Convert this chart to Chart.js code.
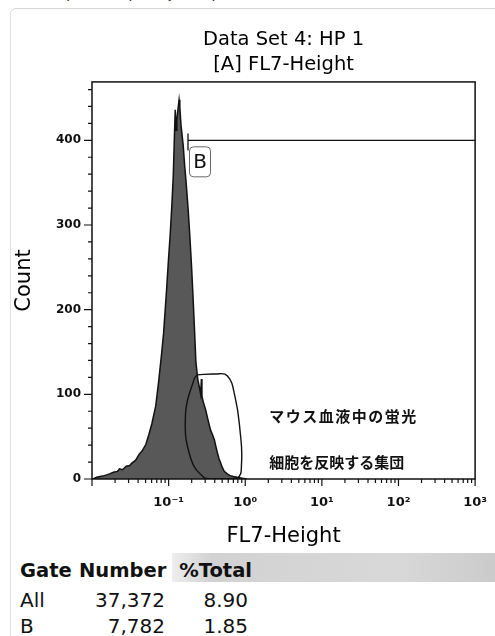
<!DOCTYPE html>
<html>
<head>
<meta charset="utf-8">
<script src="https://cdn.jsdelivr.net/npm/chart.js@4.4.1/dist/chart.umd.min.js"></script>
<style>
  html, body { margin: 0; padding: 0; background: #fff; }
  body { width: 495px; height: 636px; position: relative; overflow: hidden; font-family: "DejaVu Sans", sans-serif; color: #111; }
  #caption { position: absolute; left: 42px; top: -10px; font-size: 11px; line-height: 12px; font-weight: bold; color: #333; white-space: nowrap; }
  #frame { position: absolute; left: 10px; top: 8px; right: -2px; bottom: -2px; border-top: 1px solid #d4d4d4; border-left: 1px solid #e2e2e2; border-top-left-radius: 6px; }
  #wrap { position: absolute; left: 0; top: 0; width: 495px; height: 553px; }
  #band { position: absolute; left: 172px; top: 553px; width: 323px; height: 29px;
          background: linear-gradient(to right, #eeeeee, #d2d2d2 12%, #d8d8d8 70%, #cbcbcb); }
  .cell { position: absolute; font-size: 20px; line-height: 20px; white-space: nowrap; color: #111; }
  .head { font-weight: bold; font-size: 19.5px; }
</style>
</head>
<body>
<div id="caption">n=6, Error bar, SD. *p&lt;0.05, Student t-test</div>
<div id="frame"></div>
<div id="band"></div>
<div id="wrap"><canvas id="histChart" width="495" height="553"></canvas></div>

<script>
// FL7-Height histogram
const fl7Height = [
  0.0103, 0.0115, 0.0127, 0.0145, 0.017, 0.019, 0.0215, 0.0228, 0.025, 0.028,
  0.031, 0.0334, 0.037, 0.0411, 0.045, 0.0505, 0.055, 0.0603, 0.0678, 0.0741,
  0.081, 0.0859, 0.0938, 0.0994, 0.105, 0.110, 0.115, 0.119, 0.122, 0.125,
  0.128, 0.133, 0.137, 0.140, 0.145, 0.155, 0.162, 0.169, 0.18, 0.19,
  0.2, 0.208, 0.218, 0.227, 0.24, 0.255, 0.262, 0.268, 0.272, 0.285,
  0.304, 0.33, 0.352, 0.375, 0.396, 0.415, 0.433, 0.455, 0.473, 0.5,
  0.532, 0.582, 0.635, 0.7, 0.781, 0.906, 1.05
];
const counts = [
  0, 2, 3, 4, 6, 8, 9, 12, 11, 15,
  16, 19, 22, 29, 33, 41, 52, 65, 86, 115,
  148, 172, 222, 258, 290, 322, 358, 405, 436, 412,
  425, 438, 448, 440, 418, 394, 370, 351, 318, 284,
  248, 216, 175, 138, 118, 106, 100, 118, 98, 90,
  82, 68, 58, 52, 46, 38, 31, 24, 20, 14,
  9, 6, 4, 3, 2, 1, 0
];

// hand drawn gate outline
const gateX = [0.235, 0.40, 0.582, 0.736, 0.853, 0.895, 0.781, 0.374, 0.296, 0.195, 0.166, 0.215, 0.235];
const gateY = [123, 124, 122, 97, 58, 19, 1, 0.5, 1, 24, 76, 118, 123];

// range gate B
const gateB = { name: "B", start: 0.179, end: 1000, level: 400 };

const yTicks = [0, 100, 200, 300, 400];
const xTickLabels = { "-1": "10⁻¹", "0": "10⁰", "1": "10¹", "2": "10²", "3": "10³" };

const noteLines = ["マウス血液中の蛍光", "細胞を反映する集団"];

const tableHead = ["Gate", "Number", "%Total"];
const gateNames = ["All", "B"];
const gateNumbers = ["37,372", "7,782"];
const gatePercents = ["8.90", "1.85"];

//////////////////////////////
// Stats table
//////////////////////////////

function cell(text, left, right, top, cls) {
  const d = document.createElement("div");
  d.className = "cell " + (cls || "");
  d.textContent = text;
  d.style.top = top + "px";
  if (left !== null) d.style.left = left + "px";
  if (right !== null) d.style.right = (495 - right) + "px";
  document.body.appendChild(d);
}

cell(tableHead[0], 20, null, 561, "head");
cell(tableHead[1], 79, null, 561, "head");
cell(tableHead[2], null, 252, 561, "head");
const rowTops = [590, 616];
gateNames.forEach((name, i) => {
  cell(name, 20, null, rowTops[i]);
  cell(gateNumbers[i], null, 165, rowTops[i]);
  cell(gatePercents[i], null, 248, rowTops[i]);
});

//////////////////////////////
// Frame, tick marks, gate B, notes
//////////////////////////////

const axisFrame = {
  id: "axisFrame",
  afterDraw(chart) {
    const { ctx, chartArea: a, scales: { x, y } } = chart;
    ctx.save();
    ctx.strokeStyle = "#111";
    ctx.lineWidth = 1.5;
    ctx.strokeRect(a.left, a.top, a.right - a.left, a.bottom - a.top);

    ctx.lineWidth = 1.2;
    ctx.beginPath();
    for (let v = 0; v <= 460; v += 20) {
      const py = y.getPixelForValue(v);
      const len = v % 100 === 0 ? 8 : 4;
      ctx.moveTo(a.left - len, py);
      ctx.lineTo(a.left, py);
    }
    for (let d = -2; d <= 3; d++) {
      for (let m = 1; m <= 9; m++) {
        const v = m * Math.pow(10, d);
        if (v > 1000) break;
        const px = x.getPixelForValue(v);
        const len = m === 1 ? 7 : 4;
        ctx.moveTo(px, a.bottom);
        ctx.lineTo(px, a.bottom + len);
      }
    }
    ctx.stroke();

    // gate B marker
    const bx = x.getPixelForValue(gateB.start);
    const by = y.getPixelForValue(gateB.level);
    ctx.lineWidth = 1.3;
    ctx.beginPath();
    ctx.moveTo(bx, y.getPixelForValue(gateB.level + 8));
    ctx.lineTo(bx, y.getPixelForValue(gateB.level - 12));
    ctx.moveTo(bx, by);
    ctx.lineTo(x.getPixelForValue(gateB.end), by);
    ctx.stroke();

    ctx.strokeStyle = "#666";
    ctx.lineWidth = 1;
    ctx.beginPath();
    ctx.roundRect(bx + 1.5, by + 6.5, 21, 30, 4);
    ctx.stroke();
    ctx.fillStyle = "#111";
    ctx.font = '20px "DejaVu Sans"';
    ctx.textAlign = "center";
    ctx.textBaseline = "middle";
    ctx.fillText(gateB.name, bx + 12, by + 22);

    // notes
    ctx.font = 'bold 15px "Noto Sans CJK JP"';
    ctx.textAlign = "left";
    ctx.letterSpacing = "1.5px";
    ctx.fillText(noteLines[0], x.getPixelForValue(2.05), y.getPixelForValue(74));
    ctx.letterSpacing = "0px";
    ctx.fillText(noteLines[1], x.getPixelForValue(2.05), y.getPixelForValue(20));
    ctx.restore();
  }
};

const ctx = document.getElementById("histChart").getContext("2d");

new Chart(ctx, {
  type: "line",
  data: {
    datasets: [
      {
        label: "Gate",
        data: gateX.map((v, i) => ({ x: v, y: gateY[i] })),
        borderColor: "#111",
        borderWidth: 1.4,
        fill: false,
        tension: 0.45,
        pointRadius: 0,
        order: 0
      },
      {
        label: "FL7-Height",
        data: fl7Height.map((v, i) => ({ x: v, y: counts[i] })),
        borderColor: "#111",
        backgroundColor: "#585858",
        borderWidth: 1.5,
        fill: "origin",
        tension: 0,
        pointRadius: 0,
        order: 1
      }
    ]
  },
  options: {
    responsive: false,
    animation: false,
    devicePixelRatio: 1,
    layout: { padding: { left: 0, right: 12, top: 0, bottom: 0 } },
    plugins: {
      legend: { display: false },
      tooltip: { enabled: false },
      title: {
        display: true,
        fullSize: false,
        text: ["Data Set 4: HP 1", "[A] FL7-Height"],
        color: "#000",
        font: { family: "DejaVu Sans", size: 19.5, weight: "normal", lineHeight: 1.28 },
        padding: { top: 27, bottom: 5 }
      }
    },
    scales: {
      x: {
        type: "logarithmic",
        min: 0.01,
        max: 1000,
        afterFit: (scale) => { scale.height = 74; },
        grid: { display: false, tickLength: 8 },
        border: { display: false },
        ticks: {
          autoSkip: false,
          maxRotation: 0,
          padding: 8,
          color: "#111",
          font: { family: "DejaVu Sans", size: 13, weight: "bold" },
          callback: (value) => {
            const e = Math.log10(value);
            const r = Math.round(e);
            if (Math.abs(e - r) < 1e-6 && xTickLabels[r] !== undefined) return xTickLabels[r];
            return "";
          }
        },
        title: {
          display: true,
          text: "FL7-Height",
          color: "#000",
          font: { family: "DejaVu Sans", size: 21, lineHeight: 1.2 },
          padding: { top: 0, bottom: 4 }
        }
      },
      y: {
        type: "linear",
        min: 0,
        max: 469,
        afterFit: (scale) => { scale.width = 92; },
        grid: { display: false, tickLength: 8 },
        border: { display: false },
        afterBuildTicks: (scale) => { scale.ticks = yTicks.map(v => ({ value: v })); },
        ticks: {
          padding: 3,
          color: "#111",
          font: { family: "DejaVu Sans", size: 12, weight: "bold" }
        },
        title: {
          display: true,
          text: "Count",
          color: "#000",
          font: { family: "DejaVu Sans", size: 21, lineHeight: 1.2 },
          padding: { top: 12, bottom: 0 }
        }
      }
    }
  },
  plugins: [axisFrame]
});
</script>
</body>
</html>
